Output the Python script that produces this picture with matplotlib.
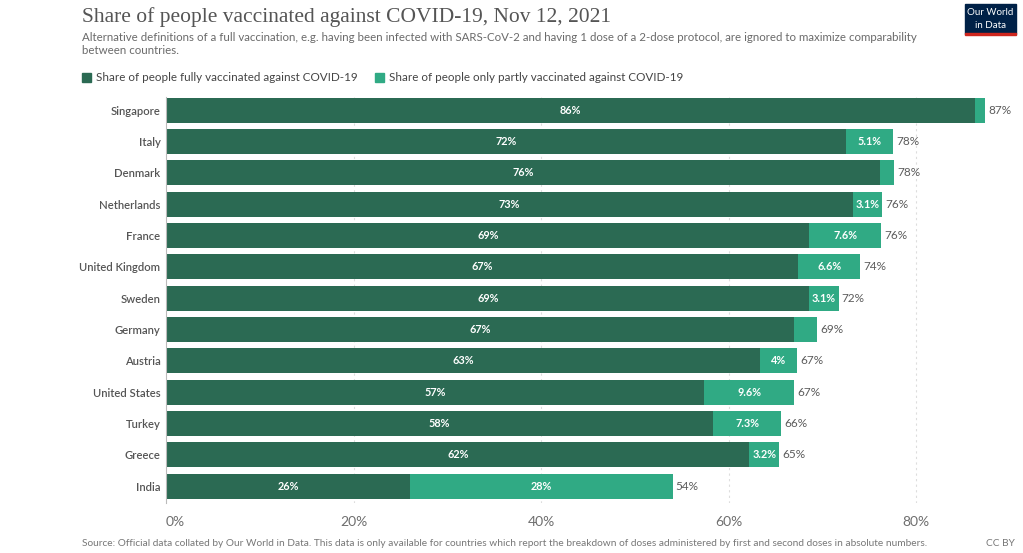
import matplotlib
matplotlib.use("Agg")
import matplotlib.pyplot as plt
from matplotlib.patches import Rectangle

countries = ["Singapore", "Italy", "Denmark", "Netherlands", "France", "United Kingdom",
             "Sweden", "Germany", "Austria", "United States", "Turkey", "Greece", "India"]
full = [86.3, 72.45, 76.1, 73.2, 68.6, 67.4, 68.6, 66.9, 63.3, 57.4, 58.3, 62.2, 26.0]
partial = [1.0, 5.1, 1.5, 3.1, 7.6, 6.6, 3.1, 2.5, 4.0, 9.6, 7.3, 3.2, 28.0]
xticks = [0, 20, 40, 60, 80]
xticklabels = ["0%", "20%", "40%", "60%", "80%"]

title = "Share of people vaccinated against COVID-19, Nov 12, 2021"
subtitle = ("Alternative definitions of a full vaccination, e.g. having been infected with SARS-CoV-2 and having 1 dose of a 2-dose protocol, are ignored to maximize comparability\n"
            "between countries.")
leg_full = "Share of people fully vaccinated against COVID-19"
leg_part = "Share of people only partly vaccinated against COVID-19"
source = ("Source: Official data collated by Our World in Data. This data is only available for countries which report the breakdown of doses administered by first and second doses in absolute numbers.")

DARK = "#2b6a53"
LIGHT = "#30aa84"
TXT = "#5b5b5b"

plt.rcParams['font.family'] = ['Lato', 'DejaVu Sans']

W, H = 1023, 553
fig = plt.figure(figsize=(W / 100, H / 100), dpi=100)

def fx(px):
    return px / W

def fy(py):
    return 1 - py / H

ax_left, ax_right = 166, 1010
ax_top, ax_bot = 97, 503
ax = fig.add_axes([fx(ax_left), fy(ax_bot), fx(ax_right - ax_left), (ax_bot - ax_top) / H])

n = len(countries)
ypos = list(range(n))
ax.barh(ypos, full, height=0.8, color=DARK, linewidth=0, zorder=2)
ax.barh(ypos, partial, left=full, height=0.8, color=LIGHT, linewidth=0, zorder=2)

ax.set_xlim(0, (ax_right - ax_left) / 9.38)
ax.set_ylim(12.54, -0.42)

def fmt(v):
    if v >= 10:
        return f"{v:.0f}%"
    s = f"{v:.2g}"
    return s + "%"

for i in range(n):
    f, p = full[i], partial[i]
    ax.text(f / 2, i, f"{f:.0f}%", ha="center", va="center", color="white",
            fontsize=7.8, fontweight="bold", zorder=3)
    if p >= 3:
        ax.text(f + p / 2, i, fmt(p), ha="center", va="center", color="white",
                fontsize=7.8, fontweight="bold", zorder=3)
    ax.text(f + p + 0.35, i, f"{f + p:.0f}%", ha="left", va="center", color=TXT,
            fontsize=8.5, zorder=3)

ax.set_yticks(ypos)
ax.set_yticklabels(countries, fontsize=8.1, color="#555555", fontweight="semibold")
ax.tick_params(axis="y", length=0, pad=4)
ax.set_xticks(xticks)
ax.set_xticklabels(xticklabels, fontsize=10, color="#6e6e6e")
ax.tick_params(axis="x", length=0, pad=9)
ax.get_xticklabels()[0].set_horizontalalignment("left")

for s in ["top", "right", "bottom"]:
    ax.spines[s].set_visible(False)
ax.spines["left"].set_color("#bbbbbb")
ax.spines["left"].set_linewidth(0.8)
ax.spines["left"].set_zorder(4)

for x in xticks[1:]:
    ax.axvline(x, color="#dddddd", linestyle=(0, (2, 3)), linewidth=0.8, zorder=1)

# Title and subtitle
fig.text(fx(82), fy(17), title, fontsize=15.5, color="#555555", family="Liberation Serif",
         ha="left", va="center")
fig.text(fx(82), fy(44), subtitle, fontsize=8.3, color="#6a6a6a", ha="left", va="center",
         linespacing=1.15)

# Legend
for xpx, label, col in [(82, leg_full, DARK), (375, leg_part, LIGHT)]:
    fig.patches.append(Rectangle((fx(xpx), fy(82)), fx(9), 9 / H, transform=fig.transFigure,
                                 color=col))
    fig.text(fx(xpx + 14), fy(77.5), label, fontsize=8.4, color="#444444", ha="left", va="center")

# Logo
fig.patches.append(Rectangle((fx(965), fy(34)), fx(51), 30 / H, transform=fig.transFigure,
                             color="#002147"))
fig.patches.append(Rectangle((fx(965), fy(35)), fx(51), 2.2 / H, transform=fig.transFigure,
                             color="#ce261e"))
fig.text(fx(990.5), fy(12.5), "Our World", fontsize=7, color="white", ha="center", va="center")
fig.text(fx(990.5), fy(25), "in Data", fontsize=7, color="white", ha="center", va="center")

# Footer
fig.text(fx(82), fy(544), source, fontsize=7.3, color="#777777", ha="left", va="center")
fig.text(fx(1015), fy(544), "CC BY", fontsize=7.3, color="#777777", ha="right", va="center")

fig.savefig("out.png", dpi=100)
